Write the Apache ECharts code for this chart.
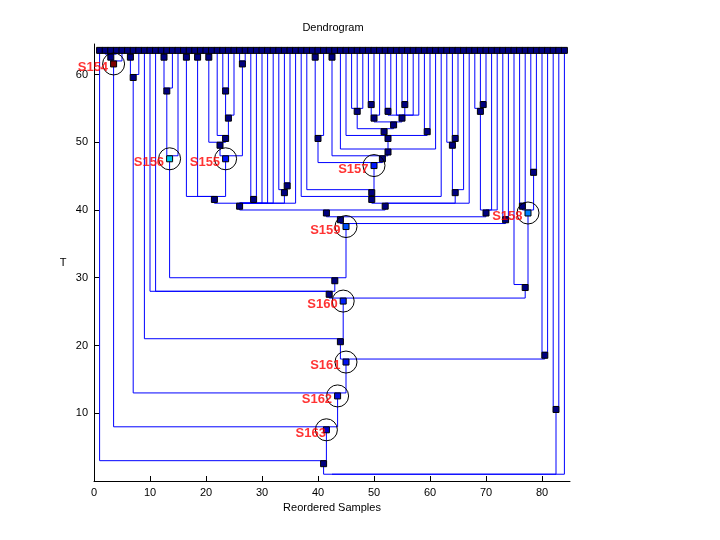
<!DOCTYPE html>
<html><head><meta charset="utf-8">
<script src="https://cdn.jsdelivr.net/npm/echarts@6/dist/echarts.min.js"></script>
<style>html,body{margin:0;padding:0;background:#fff}#c{width:720px;height:540px}</style>
</head><body><div id="c"></div>
<script>
// Leaves (reordered sample positions) and their level
const leafX = [1,2,3,4,5,6,7,8,9,10,11,12,13,14,15,16,17,18,19,20,21,22,23,24,25,26,27,28,29,30,
  31,32,33,34,35,36,37,38,39,40,41,42,43,44,45,46,47,48,49,50,51,52,53,54,55,56,57,58,59,60,
  61,62,63,64,65,66,67,68,69,70,71,72,73,74,75,76,77,78,79,80,81,82,83,84];
const leafLevel = 64;

// Internal nodes
const nodeNames = ['a1','S154','a2','a3','a4','a5','S156','a6','a7','a8','a9','a10','a11','a12','a13','S155',
  'a14','a15','a16','a17','a18','a19','a20','a21','a22','a23','a24','a25','a26','a27','a28','a29','a30','a31','a32','a33',
  'S157','a34','a35','a36','a37','a38','a39','a40','a41','a42','a43','a44','a45','S159','a46','a47','a48','a49','S158',
  'a50','S160','a51','a52','S161','S162','S163','a53','a54','root'];
const nodeX = [3,3.5,6.5,7,12.5,13,13.5,16.5,18.5,20.5,23.5,24,23.5,22.5,26.5,23.5,
  21.5,28.5,34.5,34,26,39.5,40,42.5,49.5,47,52.5,55.5,50,55,53.5,51.8,59.5,52.5,52.5,51.5,
  50,49.6,49.6,64.5,64,64.5,52,41.5,69.5,69,70,44,73.5,45,43,42,76.5,78.5,77.5,
  77,44.5,44,80.5,45,43.5,41.5,41,82.5,42.5];
const nodeLevel = [63,62,63,60,63,58,48,63,63,63,58,54,51,50,62,48,
  42,42,44,43,41,63,51,63,56,55,55,56,54,54,53,52,52,51,49,48,
  47,43,42,51,50,43,41,40,56,55,40,39,39,38,30,28,41,46,40,
  29,27,21,19,18,13,8,3,11,1];
const nodeChildren = [
  [2,3,4],['a1',5],[6,7],['a2',8],[12,13],['a4',14],['a5',15],[16,17],[18,19],[20,21],[23,24],['a9',25],[22,'a10'],['a8','a11'],[26,27],['a12','a13'],
  ['a6','a7','S155'],[28,29],[34,35],[33,'a16'],['a14','a15',30,31,32,'a17',36],[39,40],['a19',41],[42,43],[49,50],[46,47,48],[52,53],[55,56],['a22',51],['a24',54,'a25',57,58],['a26','a27'],['a23','a28'],[59,60],[45,'a29','a30'],[44,'a31',61],['a21','a32'],
  ['a20','a33'],[38,'S157'],[37,'a34',62],[64,65],[63,'a36'],['a37',66],['a35','a38',67],['a18','a39'],[69,70],[68,'a41'],['a42',71,72],['a40','a43'],[73,74],['a44','a45'],['S156','S159'],[10,11,'a46'],[76,77],[78,79],['a48','a49'],
  [75,'S158'],['a47','a50'],[9,'S160'],[80,81],['a51','a52'],['a3','S161'],['S154','S162'],[1,'S163'],[82,83],['a53','a54',84]
];

// Highlighted clusters
const highlightNames = ['S154','S155','S156','S157','S158','S159','S160','S161','S162','S163'];
const highlightColors = ['#7f0000','#0010ff','#00ccee','#0018ff','#0080ff','#0050ff','#0020ff','#0010f0','#0008e0','#0000d0'];

const xTicks = [0,10,20,30,40,50,60,70,80];
const yTicks = [10,20,30,40,50,60];

// ---- build ----
const idx = {};
nodeNames.forEach((n,i)=>idx[n]=i);
function pos(c){
  if (typeof c === 'number') return [leafX[c-1], leafLevel];
  const i = idx[c]; return [nodeX[i], nodeLevel[i]];
}
const edges = [];
nodeNames.forEach((n,i)=>{
  const px = nodeX[i], py = nodeLevel[i];
  nodeChildren[i].forEach(c=>{
    const [cx, cy] = pos(c);
    edges.push({coords: [[cx, cy],[cx, py],[px, py]]});
  });
});
const nodePts = [];
nodeNames.forEach((n,i)=>{
  if (n === 'root') return;
  const h = highlightNames.indexOf(n);
  const item = {value:[nodeX[i], nodeLevel[i]]};
  if (h >= 0) item.itemStyle = {color: highlightColors[h]};
  nodePts.push(item);
});
const hlPts = highlightNames.map(n=>({name:n, value:[nodeX[idx[n]], nodeLevel[idx[n]]]}));
const labelPts = highlightNames.map(n=>{
  const item = {name:n, value:[nodeX[idx[n]], nodeLevel[idx[n]]]};
  if (n === 'S163') item.label = {offset:[5,6.5]};
  return item;
});

const FONT = '"Liberation Sans", Arial, Helvetica, sans-serif';
const chart = echarts.init(document.getElementById('c'), null, {renderer:'canvas'});
chart.setOption({
  animation:false,
  backgroundColor:'#fff',
  grid:{left:94, right:150, top:44, bottom:59, containLabel:false},
  xAxis:{type:'value', min:0, max:85,
    axisLine:{lineStyle:{color:'#000', width:1}},
    axisTick:{inside:true, length:5, lineStyle:{color:'#000'}, customValues:xTicks},
    axisLabel:{color:'#000', fontSize:11, fontFamily:FONT, margin:6, customValues:xTicks},
    splitLine:{show:false}},
  yAxis:{type:'value', min:0, max:64.5,
    axisLine:{lineStyle:{color:'#000', width:1}},
    axisTick:{inside:true, length:5, lineStyle:{color:'#000'}, customValues:yTicks},
    axisLabel:{color:'#000', fontSize:11, fontFamily:FONT, margin:6, customValues:yTicks},
    splitLine:{show:false}},
  graphic:[
    {type:'text', style:{text:'Dendrogram', x:333, y:28, align:'center', verticalAlign:'middle', font:'11px '+FONT, fill:'#000'}},
    {type:'text', style:{text:'Reordered Samples', x:332, y:508, align:'center', verticalAlign:'middle', font:'11px '+FONT, fill:'#000'}},
    {type:'text', style:{text:'T', x:63, y:263, align:'center', verticalAlign:'middle', font:'11px '+FONT, fill:'#000'}}
  ],
  series:[
    {type:'lines', coordinateSystem:'cartesian2d', polyline:true, silent:true, z:1,
      data:edges, lineStyle:{color:'#0000ff', width:1, opacity:1}},
    {type:'scatter', silent:true, z:3, symbol:'rect', symbolSize:[6,6], symbolOffset:[0,3],
      data:leafX.map(x=>[x, leafLevel]),
      itemStyle:{color:'#000080', borderColor:'#000', borderWidth:1, opacity:1}},
    {type:'scatter', silent:true, z:3, symbol:'rect', symbolSize:[6,6], symbolOffset:[0,3],
      data:nodePts,
      itemStyle:{color:'#000080', borderColor:'#000', borderWidth:1, opacity:1}},
    {type:'scatter', silent:true, z:4, symbol:'circle', symbolSize:22, symbolOffset:[0,3],
      data:hlPts,
      itemStyle:{color:'rgba(0,0,0,0)', borderColor:'#000', borderWidth:1, opacity:1}},
    {type:'scatter', silent:true, z:5, symbol:'rect', symbolSize:1,
      data:labelPts,
      itemStyle:{color:'rgba(0,0,0,0)'},
      label:{show:true, formatter:'{b}', position:'left', distance:5, offset:[0,6.5],
        color:'#ff0000', fontWeight:'bold', fontSize:13, fontFamily:FONT}}
  ]
});
</script>
</body></html>
